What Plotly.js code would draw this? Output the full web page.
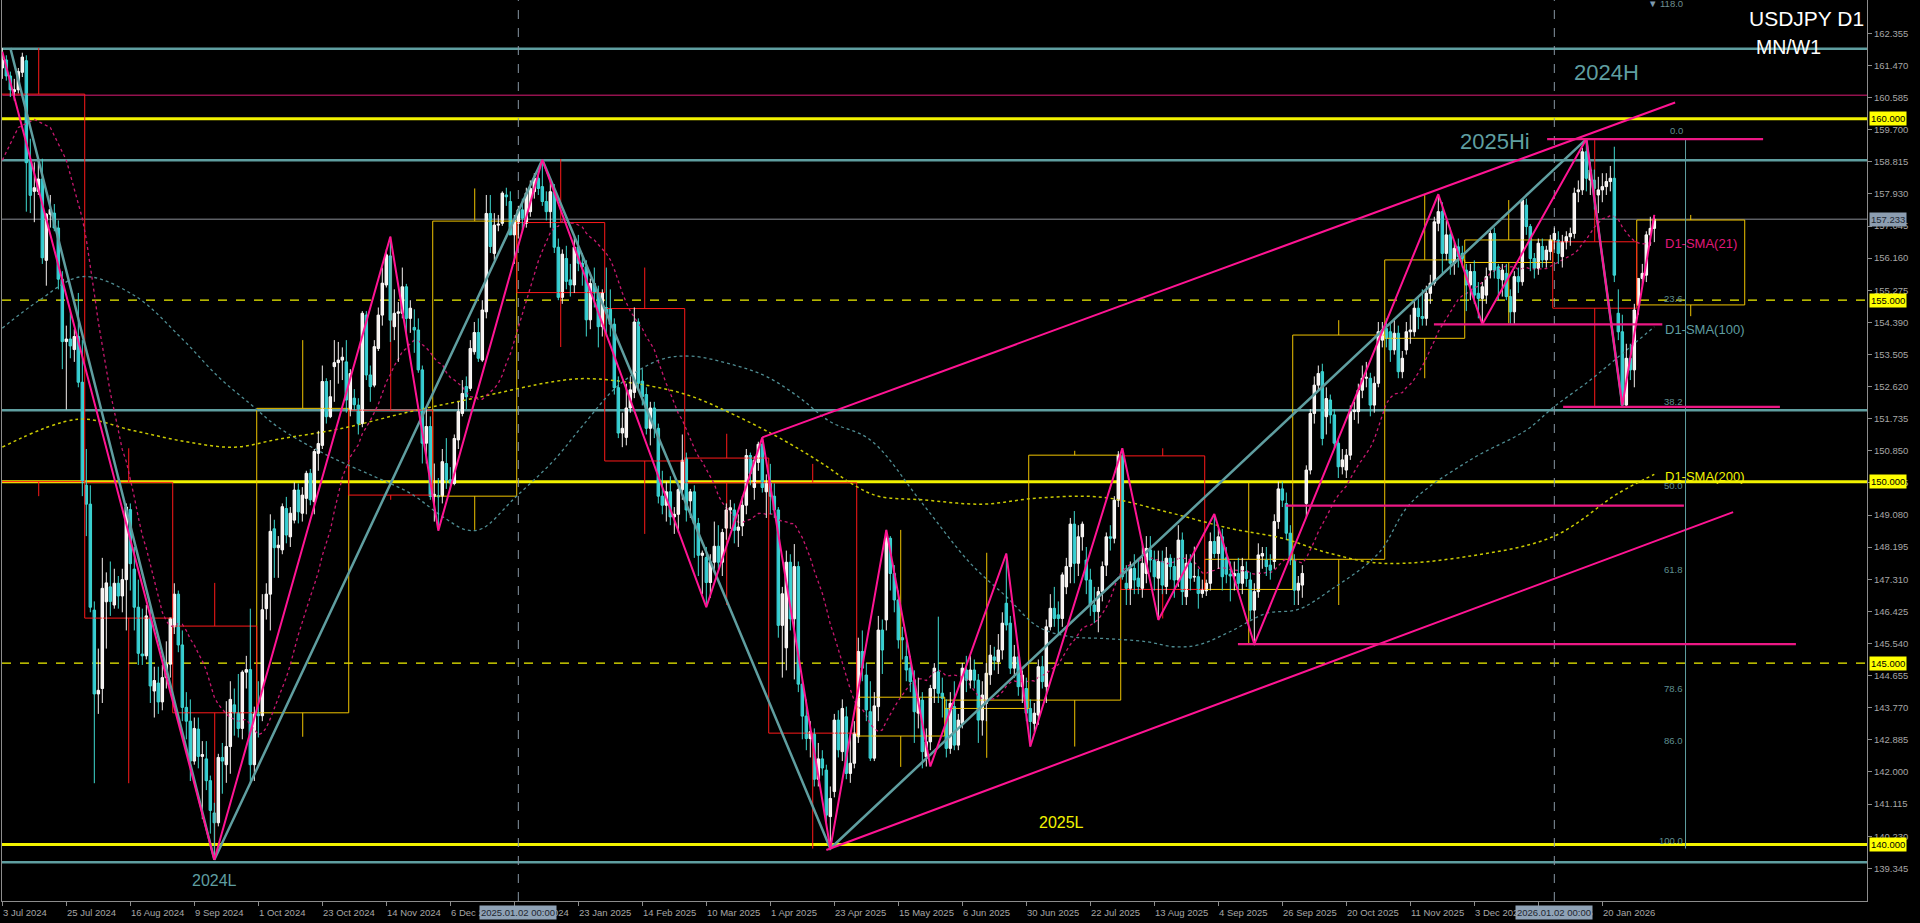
<!DOCTYPE html>
<html><head><meta charset="utf-8">
<script src="https://cdn.plot.ly/plotly-3.0.1.min.js"></script>
<style>html,body{margin:0;padding:0;background:#000;overflow:hidden}#chart{width:1920px;height:923px}</style>
</head><body><div id="chart"></div>
<script>
// ---------------- daily candles USDJPY D1 (bar index 0 = 3 Jul 2024) ----------------
const openP = [
161.40,161.62,161.18,160.75,160.80,161.28,161.60,158.86,158.00,158.00,
158.34,156.10,157.37,157.40,156.99,155.58,153.86,153.93,153.64,154.00,
152.74,149.90,149.38,146.46,144.15,144.30,146.69,147.10,146.60,147.20,
146.85,147.30,149.23,147.59,146.54,145.25,145.20,146.24,144.23,144.45,
143.93,144.60,144.97,146.00,146.90,145.50,143.78,143.40,142.30,143.18,
142.43,142.36,141.76,140.87,140.60,142.40,142.20,142.70,143.85,143.63,
143.20,144.75,144.82,142.20,143.60,143.55,146.50,146.90,148.70,148.18,
148.12,149.26,148.48,148.94,149.77,149.13,149.54,150.23,149.45,150.78,
151.00,152.76,151.79,153.17,153.28,153.35,153.30,151.97,152.30,152.11,
151.60,154.59,152.94,152.66,153.67,154.59,155.42,156.22,154.27,154.64,
154.64,155.37,154.50,154.25,154.18,153.08,151.06,151.52,149.59,149.62,
149.60,150.50,150.05,149.95,151.15,151.88,152.62,152.57,153.58,154.11,
153.35,154.68,157.39,156.29,157.07,157.12,157.90,157.72,156.80,157.12,
157.49,157.12,157.44,157.99,158.36,158.13,157.72,157.44,157.99,156.46,
155.08,156.15,155.56,155.42,156.46,156.02,155.92,154.46,155.46,155.20,
154.27,154.80,154.77,154.34,152.59,151.34,151.22,152.03,152.46,154.40,
152.77,152.40,151.47,152.03,151.47,149.60,149.35,149.72,149.03,149.10,
149.78,150.65,149.47,149.72,148.85,147.97,147.91,147.22,147.78,148.22,
147.78,148.72,149.22,149.22,148.66,148.78,149.35,150.72,149.84,150.53,
151.03,149.72,149.97,149.60,149.22,146.04,145.42,147.78,146.22,147.66,
144.42,143.54,142.92,143.04,141.80,142.36,142.05,140.77,141.46,143.43,
142.56,143.52,141.96,142.24,142.97,145.32,144.67,143.66,142.38,143.80,
145.91,146.19,148.44,147.47,146.74,145.70,145.18,144.86,144.53,143.62,
143.98,142.42,142.83,144.30,144.76,144.17,143.75,142.65,143.80,142.74,
143.34,144.81,144.53,144.81,144.53,143.43,143.89,144.68,145.17,145.04,
145.36,146.65,146.10,144.86,145.17,144.35,144.30,143.75,143.34,143.57,
144.90,144.35,146.00,146.51,146.33,146.23,147.10,147.66,148.83,147.75,
148.48,147.84,147.29,146.60,146.42,146.97,147.70,148.48,148.44,149.49,
150.71,147.20,147.06,147.61,147.34,147.06,147.47,148.12,147.84,147.34,
147.80,147.11,147.89,147.66,147.29,148.39,146.83,147.75,147.37,147.38,
146.92,146.99,147.20,148.35,148.02,148.48,147.90,147.45,147.40,147.47,
147.20,147.52,147.29,146.46,146.97,147.95,147.84,147.70,147.80,148.90,
149.80,149.40,148.58,147.84,147.01,147.15,149.40,150.32,151.88,152.66,
153.03,151.79,152.25,151.84,151.06,150.41,150.32,150.73,151.93,151.93,
152.52,152.85,152.85,152.11,152.71,153.90,154.22,154.13,153.63,154.09,
153.03,153.63,154.13,154.13,154.78,154.55,154.50,155.19,155.47,157.12,
157.44,156.29,156.80,156.02,156.47,156.29,155.83,155.42,155.79,155.19,
155.05,155.14,155.83,156.84,155.92,155.56,155.74,155.10,154.68,155.65,
155.51,157.62,157.03,156.15,155.88,156.48,156.11,156.34,156.66,156.66,
156.20,156.61,156.75,156.84,157.99,158.04,159.09,158.31,158.31,157.90,
158.04,158.13,158.27,158.36,154.64,154.13,152.11,153.40,153.08,154.87,
155.60,155.69,156.80,156.98];
const highP = [
161.95,161.75,161.30,161.10,161.40,161.82,161.75,159.45,158.80,158.85,
158.90,157.40,157.90,157.65,157.20,155.80,154.30,154.70,154.20,155.20,
153.90,150.90,149.90,146.70,145.40,147.90,147.50,147.80,147.60,147.40,
147.60,149.40,149.40,148.20,147.30,146.50,146.60,146.55,144.90,144.90,
144.95,145.60,146.25,147.20,147.00,145.90,144.20,144.00,143.50,143.50,
142.85,142.85,141.90,141.15,142.50,142.80,143.95,144.50,144.30,144.70,
144.80,145.20,146.50,143.80,144.50,146.90,147.20,149.10,148.95,148.50,
149.40,149.58,149.30,149.98,149.95,149.85,150.30,150.35,150.90,151.40,
153.20,152.85,152.80,153.90,153.85,153.70,153.90,153.10,152.55,152.30,
154.70,154.70,153.20,153.90,154.80,155.90,156.40,156.75,155.30,154.95,
155.90,155.45,155.00,154.75,154.50,153.20,152.00,151.80,150.50,150.10,
150.90,151.20,150.40,151.30,152.20,152.80,152.90,153.90,154.40,154.50,
155.00,157.90,157.90,157.40,157.35,158.00,158.10,158.00,157.35,157.60,
157.80,158.10,158.30,158.50,158.55,158.87,158.00,158.30,158.20,156.70,
156.40,156.50,156.00,156.75,156.80,156.30,156.10,155.60,155.90,155.40,
155.30,155.90,155.30,154.50,152.90,151.90,152.70,152.90,154.80,154.50,
153.10,152.60,152.20,152.20,151.60,150.30,150.00,150.15,149.30,149.90,
151.30,150.80,149.80,149.90,149.00,148.10,148.20,148.00,148.90,148.80,
148.70,149.40,149.50,149.40,149.10,149.60,150.90,150.80,150.70,151.10,
151.22,150.20,150.49,149.95,149.30,147.10,148.10,148.00,148.28,147.80,
144.60,144.00,143.40,143.20,142.80,142.60,142.20,141.60,143.60,143.70,
144.00,143.80,143.00,143.40,145.70,145.90,145.00,144.50,144.20,146.30,
146.20,148.67,148.50,147.70,147.00,146.00,145.60,145.20,144.80,144.60,
144.20,143.20,144.40,145.00,146.28,144.60,144.00,144.20,144.50,143.60,
145.00,145.20,145.20,145.10,144.70,144.50,145.00,145.50,145.45,145.80,
146.40,148.02,146.30,145.50,145.30,144.80,144.60,144.00,143.90,145.10,
145.20,146.20,146.90,147.10,146.70,147.50,147.90,149.00,149.19,148.80,
148.90,148.20,147.60,147.10,147.10,147.80,148.60,148.80,149.60,150.84,
150.92,147.70,147.80,148.00,147.90,148.30,148.50,148.50,148.10,148.10,
148.10,148.20,148.00,147.90,148.80,148.60,148.00,148.00,148.21,147.60,
147.30,147.30,148.60,149.11,148.70,148.70,148.20,147.80,147.80,147.90,
147.90,147.80,147.50,147.20,148.30,148.20,148.20,148.00,149.10,150.00,
150.00,149.70,148.80,148.00,147.40,147.70,150.45,152.00,152.90,153.20,
153.25,152.60,152.40,152.00,151.20,150.90,150.90,152.10,152.20,152.70,
153.20,153.30,153.00,152.90,154.40,154.40,154.50,154.40,154.50,154.30,
153.60,154.40,154.60,155.00,155.05,155.30,155.40,155.70,157.30,157.90,
157.70,157.20,157.00,156.60,156.70,156.50,156.00,156.00,156.10,155.50,
155.50,155.90,156.95,157.00,156.00,156.00,156.00,155.30,155.80,155.90,
157.78,157.80,157.10,156.30,156.70,156.70,156.50,156.80,157.00,156.90,
156.80,156.90,157.00,158.10,158.30,159.20,159.44,158.80,158.60,158.40,
158.50,158.50,158.70,159.23,155.30,154.60,153.80,153.80,154.90,155.60,
156.00,156.90,157.30,157.35];
const lowP = [
161.10,161.05,160.60,160.50,160.70,161.15,157.44,157.40,157.15,157.90,
156.00,155.40,157.00,156.90,155.30,153.10,151.99,153.40,153.30,152.60,
149.60,148.50,146.40,141.69,143.60,143.90,145.40,146.30,146.50,146.50,
146.40,145.90,147.00,145.90,144.95,144.95,145.10,143.90,143.50,143.60,
143.70,144.30,144.60,145.80,145.30,143.40,142.90,141.75,142.20,142.10,
140.70,141.50,140.30,139.58,140.50,141.40,141.70,141.95,143.00,142.95,
142.90,144.30,141.65,141.75,142.95,143.40,146.20,145.90,147.35,147.35,
148.00,148.30,148.20,148.85,148.85,148.90,149.10,149.35,149.10,150.30,
150.90,151.60,151.75,152.20,152.70,152.80,151.90,151.80,151.97,151.30,
151.50,152.80,152.20,152.60,153.60,154.30,155.35,153.85,153.90,153.30,
154.50,154.10,154.10,153.55,153.00,150.50,150.50,149.50,148.90,148.65,
149.40,149.80,149.80,149.90,150.90,151.80,152.00,152.50,153.50,153.30,
153.30,154.50,156.30,156.10,156.90,157.05,157.60,156.80,156.00,156.70,
156.90,157.00,157.30,157.80,157.90,157.60,157.20,157.00,156.30,155.00,
154.90,155.30,155.10,155.20,155.80,155.40,154.00,154.20,154.80,153.70,
154.00,154.00,154.00,152.40,151.20,150.95,151.00,151.90,152.30,152.50,
152.10,151.30,151.00,151.20,149.40,149.10,148.90,148.80,148.56,148.60,
149.50,148.90,149.00,147.90,147.40,146.90,146.54,146.80,147.50,147.60,
147.40,148.40,148.70,148.30,148.20,148.50,149.10,149.90,149.50,150.30,
149.70,149.00,149.10,149.00,145.70,144.60,144.80,145.90,144.55,144.20,
142.90,142.60,142.40,141.60,141.60,141.90,140.60,139.89,141.30,142.40,
142.30,141.80,141.70,142.10,142.80,144.50,143.40,142.30,142.30,143.40,
144.70,145.90,147.00,146.40,145.40,145.10,144.50,144.20,142.80,143.20,
142.10,142.15,142.60,143.90,143.90,143.50,142.40,142.50,142.60,142.60,
143.20,144.20,144.30,144.30,142.80,143.00,143.40,144.40,144.80,144.70,
145.10,145.90,144.70,144.60,144.10,143.90,143.40,142.70,143.10,143.30,
144.30,143.90,145.90,146.00,145.80,146.00,146.90,147.20,147.20,147.40,
148.10,146.90,146.30,146.10,145.85,146.70,147.40,148.10,148.30,149.30,
147.30,146.60,146.60,146.90,146.90,146.80,147.20,147.50,147.00,146.20,
146.90,146.90,147.30,146.80,147.10,146.60,146.60,147.00,147.24,146.50,
146.80,146.85,147.00,147.90,147.60,147.00,147.20,146.70,147.00,147.00,
146.90,147.10,146.20,145.49,146.80,147.60,147.40,147.30,147.60,148.70,
149.30,148.40,147.70,146.60,146.60,146.80,149.00,150.20,151.60,152.50,
151.00,151.30,151.60,150.90,150.10,150.20,150.10,150.60,151.70,151.60,
152.30,152.60,151.80,151.90,152.60,153.70,153.70,153.30,153.50,152.85,
152.85,153.50,153.80,154.00,154.20,154.30,154.30,154.90,155.40,156.90,
155.70,156.10,155.70,155.70,155.90,155.90,154.70,155.00,154.90,154.50,
154.34,154.90,155.60,155.60,155.00,155.10,155.00,154.35,154.35,155.20,
155.40,156.80,155.80,155.60,155.70,155.90,155.90,156.10,156.40,156.00,
155.90,156.40,156.50,156.70,157.70,157.90,158.00,157.90,157.50,157.40,
157.70,157.90,158.00,155.50,153.90,152.08,152.08,152.80,152.60,154.60,
155.40,155.50,156.50,156.60];
const closeP = [
161.62,161.18,160.80,160.80,161.30,161.70,158.79,157.89,158.10,158.34,
156.17,157.37,157.50,156.99,155.58,153.86,153.93,153.74,154.00,152.74,
149.98,149.38,146.54,144.15,144.25,147.06,147.21,146.70,147.20,146.85,
147.30,149.30,147.74,146.54,145.27,145.20,146.30,144.37,144.52,143.93,
144.60,144.97,146.24,146.90,145.50,143.78,143.40,142.30,143.20,142.43,
142.48,141.76,140.94,140.60,142.40,142.30,142.70,144.00,143.63,143.20,
144.75,144.82,142.20,143.60,143.55,146.47,146.90,148.63,148.18,148.25,
149.31,148.53,149.13,149.77,149.17,149.63,150.23,149.50,150.83,151.05,
152.76,151.79,152.34,153.28,153.35,153.43,152.25,152.98,152.12,151.60,
154.64,152.94,152.62,153.72,154.59,155.47,156.25,154.45,154.64,154.68,
155.37,154.50,154.78,154.18,153.08,151.06,151.52,149.59,149.65,149.58,
150.55,150.05,149.97,151.19,151.93,152.43,152.34,153.67,154.11,153.40,
154.73,157.39,156.48,157.07,157.10,157.95,157.85,156.80,157.21,157.49,
157.26,157.95,158.08,158.36,158.08,157.72,157.44,157.99,156.46,155.08,
156.27,155.52,155.42,156.46,156.02,155.92,154.46,155.46,155.20,154.27,
155.20,154.65,154.34,152.59,151.34,151.47,152.03,152.53,154.40,152.71,
152.34,151.47,152.03,151.47,149.60,149.35,149.72,149.03,149.10,149.78,
150.59,149.22,149.72,148.85,147.97,148.03,147.22,147.78,148.22,147.78,
148.60,149.22,149.28,148.66,148.75,149.35,150.72,150.22,150.59,151.03,
149.84,149.97,149.60,149.22,146.04,146.91,147.78,146.22,147.66,144.42,
143.54,142.92,143.11,141.80,142.36,142.11,140.81,141.27,143.43,142.61,
143.75,141.96,142.24,143.07,145.32,144.86,143.71,142.38,143.82,145.91,
145.36,148.44,147.47,146.74,145.64,145.64,144.81,144.49,143.66,144.03,
142.56,142.83,144.30,144.86,144.17,144.03,142.65,143.89,142.74,143.43,
144.86,144.53,144.81,144.53,143.43,144.12,144.72,145.22,145.08,145.36,
146.10,146.05,144.86,145.17,144.35,144.67,143.62,143.39,143.62,144.90,
144.49,146.00,146.51,146.23,146.23,147.43,147.66,148.83,147.75,148.48,
148.83,147.29,146.60,146.42,146.97,147.66,148.48,148.44,149.49,150.73,
147.38,147.06,147.61,147.29,147.11,147.75,148.16,147.84,147.38,147.80,
147.15,147.89,147.66,147.29,148.39,146.97,147.75,147.34,147.39,146.92,
147.03,147.20,148.35,148.02,148.48,147.38,147.45,147.40,147.47,147.20,
147.66,147.33,146.46,146.97,147.98,148.02,147.66,147.56,148.90,149.80,
149.49,148.58,147.84,147.01,147.20,147.47,150.32,151.88,152.66,152.98,
151.19,152.29,151.84,151.06,150.41,150.60,150.73,151.93,151.97,152.52,
152.85,152.88,152.11,152.71,154.13,154.18,153.95,153.63,154.09,153.03,
153.40,154.13,154.18,154.78,154.55,154.50,155.19,155.47,157.16,157.44,
156.29,156.80,156.02,156.43,156.20,156.15,155.42,155.79,155.14,155.05,
155.37,155.65,156.84,155.83,155.60,155.83,155.10,154.68,155.65,155.51,
157.76,157.03,156.15,155.88,156.57,156.11,156.38,156.66,156.84,156.29,
156.61,156.75,156.84,157.95,158.04,159.09,158.36,158.59,158.08,158.04,
158.13,158.27,158.36,155.69,154.13,152.11,153.40,153.08,154.73,155.60,
155.74,156.80,156.98,157.23];

// ---------------- axes ----------------
const xTickIdx = [0,16,32,48,64,80,96,112,128,144,160,176,192,208,224,240,256,272,288,304,320,336,352,368,384,400];
const xTickText = ["3 Jul 2024","25 Jul 2024","16 Aug 2024","9 Sep 2024","1 Oct 2024","23 Oct 2024","14 Nov 2024","6 Dec 2024","30 Dec 2024","23 Jan 2025","14 Feb 2025","10 Mar 2025","1 Apr 2025","23 Apr 2025","15 May 2025","6 Jun 2025","30 Jun 2025","22 Jul 2025","13 Aug 2025","4 Sep 2025","26 Sep 2025","20 Oct 2025","11 Nov 2025","3 Dec 2025","26 Dec 2025","20 Jan 2026"];
const yTickText = ["162.355","161.470","160.585","159.700","158.815","157.930","157.045","156.160","155.275","154.390","153.505","152.620","151.735","150.850","149.965","149.080","148.195","147.310","146.425","145.540","144.655","143.770","142.885","142.000","141.115","140.230","139.345"];
const yTickVals = yTickText.map(Number);

// ---------------- monthly (MN) candles drawn as boxes ----------------
const monthStartIdx = [-2,21,43,64,87,108,129,151,171,192,214,236,257,280,301,323,346,366,388,409,436];
const mOpen  = [160.68,149.98,146.02,143.63,151.97,149.60,157.14,154.77,150.65,149.97,142.99,143.75,143.98,150.71,147.03,147.86,153.95,156.04,156.61,154.87];
const mHigh  = [161.95,150.92,147.21,153.90,156.75,158.08,158.89,155.90,151.32,150.49,148.67,148.04,150.85,150.92,149.97,154.45,157.90,157.76,159.41,157.35];
const mLow   = [149.60,141.69,139.60,142.97,149.50,148.67,153.71,148.56,146.60,139.89,142.14,142.39,142.70,146.23,145.54,146.60,152.85,154.36,152.08,154.56];
const mClose = [150.00,146.24,143.63,152.02,149.63,157.18,155.21,150.57,149.97,143.07,144.06,143.98,150.73,147.03,147.86,154.04,156.11,156.66,154.78,157.21];

// ---------------- moving averages ----------------
const sma21HeadIdx = [0,4,8,12,16];
const sma21HeadVal = [158.86,159.76,159.98,159.76,158.86];
const sma100Idx = [0,9,20,33,45,54,62,69,81,93,102,110,116,120,128,138,145,154,164,172,183,191,199,207,217,230,242,251,259,267,275,286,293,299,307,316,324,332,344,352,367,381,388,397,405,413];
const sma100Val = [154.23,154.98,155.65,155.13,153.93,152.89,152.14,151.50,150.74,150.14,149.68,149.04,148.67,148.71,149.54,150.60,151.53,152.65,153.34,153.46,153.21,152.90,152.34,151.65,151.15,149.40,147.75,146.83,146.00,145.73,145.68,145.59,145.45,145.50,145.87,146.37,146.48,147.01,148.02,149.40,150.60,151.42,152.07,152.80,153.53,154.27];
const sma200Idx = [0,19,33,46,58,69,85,102,118,138,146,158,171,183,196,205,213,219,230,245,259,275,291,307,320,332,345,367,388,404,413];
const sma200Val = [150.95,151.72,151.40,151.10,150.95,151.17,151.47,151.93,152.30,152.76,152.84,152.71,152.40,151.84,151.10,150.50,149.90,149.60,149.50,149.38,149.55,149.57,149.17,148.71,148.44,148.02,147.75,147.95,148.50,149.68,150.20];

// ---------------- zigzags / channel ----------------
const pinkZigIdx = [0,53,97,109,135,176,190,207,221,232,251,257,280,289,303,313,359,370,396,405,413];
const pinkZigVal = [161.85,139.58,156.75,148.65,158.87,146.54,151.22,139.89,148.67,142.15,148.02,142.70,150.92,146.19,149.11,145.52,157.92,154.34,159.44,152.10,157.35];
const tealZigIdx = [2,53,135,207,396,405];
const tealZigVal = [161.95,139.58,158.87,139.89,159.44,152.10];
const chanUpIdx = [190,418.2], chanUpVal = [151.22,160.45];
const chanLoIdx = [206,432.7], chanLoVal = [139.85,149.16];

// horizontal levels
const tealLevels = [161.93,158.86,151.97,139.51];
const yellowLevels = [160.0,150.0,140.0];
const yellowDashLevels = [155.0,145.0];
const crimsonLevel = 160.65;
const lastPrice = 157.233;
const pinkSegStart = [386.2,357.9,390.2,320.9,308.9];
const pinkSegEnd   = [440.2,415.0,444.4,420.4,448.4];
const pinkSegVal   = [159.44,154.335,152.06,149.34,145.52];

// fibonacci
const fibHigh = 159.44, fibLow = 139.89, fibIdx = 420.8;
const fibRatios = [0,23.6,38.2,50,61.8,78.6,86,100];
const fibText = ["0.0","23.6","38.2","50.0","61.8","78.6","86.0","100.0"];

// markers for the two year-start separators
const sepIdx = [129,388];
const sepText = ["2025.01.02 00:00","2026.01.02 00:00"];

// ====================================================================
const N = closeP.length;
const ids = Array.from({length:N},(_,i)=>i);
const bullI = ids.filter(i=>closeP[i]>=openP[i]);
const bearI = ids.filter(i=>closeP[i]<openP[i]);
const FONT = 'Liberation Sans, Arial, sans-serif';
const traces = [];

// monthly boxes
function addBoxes(filterBull, color){
  const bx=[],by=[],wx=[],wy=[];
  for(let m=0;m<mOpen.length;m++){
    const bull = mClose[m]>=mOpen[m];
    if(bull!==filterBull) continue;
    const x0 = monthStartIdx[m]-0.4, x1 = monthStartIdx[m+1]-0.4;
    const top=Math.max(mOpen[m],mClose[m]), bot=Math.min(mOpen[m],mClose[m]);
    bx.push(x0,x1,x1,x0,x0,null); by.push(top,top,bot,bot,top,null);
    const xc=(x0+x1)/2;
    wx.push(xc,xc,null,xc,xc,null); wy.push(top,mHigh[m],null,bot,mLow[m],null);
  }
  traces.push({type:'scatter',mode:'lines',x:bx,y:by,line:{color:color,width:1},hoverinfo:'skip'});
  traces.push({type:'scatter',mode:'lines',x:wx,y:wy,line:{color:color,width:1},hoverinfo:'skip'});
}
addBoxes(true,'#f0c400');
addBoxes(false,'#ff1a1a');

// moving averages
const sma21X = sma21HeadIdx.slice(), sma21Y = sma21HeadVal.slice();
for(let i=20;i<N;i++){let s=0;for(let k=i-20;k<=i;k++)s+=closeP[k];sma21X.push(i);sma21Y.push(s/21);}
traces.push({type:'scatter',mode:'lines',x:sma100Idx,y:sma100Val,line:{color:'#4f8d93',width:1.3,dash:'dot',shape:'spline'},hoverinfo:'skip'});
traces.push({type:'scatter',mode:'lines',x:sma200Idx,y:sma200Val,line:{color:'#c9c900',width:1.5,dash:'dot',shape:'spline'},hoverinfo:'skip'});
traces.push({type:'scatter',mode:'lines',x:sma21X,y:sma21Y,line:{color:'#c8186f',width:1.3,dash:'dot'},hoverinfo:'skip'});

// wicks
function wick(list,color){
  const x=[],y=[];
  list.forEach(i=>{x.push(i,i,null);y.push(lowP[i],highP[i],null);});
  traces.push({type:'scatter',mode:'lines',x:x,y:y,line:{color:color,width:1},hoverinfo:'skip'});
}
wick(bullI,'#f4f0ee');
wick(bearI,'#3fd9d0');
// bodies
traces.push({type:'bar',x:bullI,base:bullI.map(i=>openP[i]),y:bullI.map(i=>Math.max(closeP[i]-openP[i],0.02)),width:0.62,
  marker:{color:'#fdf4ef',line:{color:'#ffffff',width:1}},hoverinfo:'skip'});
traces.push({type:'bar',x:bearI,base:bearI.map(i=>closeP[i]),y:bearI.map(i=>Math.max(openP[i]-closeP[i],0.02)),width:0.62,
  marker:{color:'#1e9fdc',line:{color:'#3fd9d0',width:1}},hoverinfo:'skip'});

// zigzags and channel
traces.push({type:'scatter',mode:'lines',x:tealZigIdx,y:tealZigVal,line:{color:'#5f9ea0',width:2.5},hoverinfo:'skip'});
traces.push({type:'scatter',mode:'lines',x:pinkZigIdx,y:pinkZigVal,line:{color:'#ff1493',width:2},hoverinfo:'skip'});
traces.push({type:'scatter',mode:'lines',x:chanUpIdx,y:chanUpVal,line:{color:'#ff1493',width:2},hoverinfo:'skip'});
traces.push({type:'scatter',mode:'lines',x:chanLoIdx,y:chanLoVal,line:{color:'#ff1493',width:2},hoverinfo:'skip'});
// fib vertical
traces.push({type:'scatter',mode:'lines',x:[fibIdx,fibIdx],y:[fibHigh,fibLow],line:{color:'#5f9ea0',width:1},hoverinfo:'skip'});

// shapes
const shapes = [];
tealLevels.forEach(v=>shapes.push({type:'line',xref:'paper',x0:0,x1:1,yref:'y',y0:v,y1:v,line:{color:'#5f9ea0',width:2.5},layer:'below'}));
yellowLevels.forEach(v=>shapes.push({type:'line',xref:'paper',x0:0,x1:1,yref:'y',y0:v,y1:v,line:{color:'#f2f200',width:3},layer:'below'}));
yellowDashLevels.forEach(v=>shapes.push({type:'line',xref:'paper',x0:0,x1:1,yref:'y',y0:v,y1:v,line:{color:'#f2f200',width:1.2,dash:'dash'},layer:'below'}));
shapes.push({type:'line',xref:'x',x0:0,x1:470,yref:'y',y0:crimsonLevel,y1:crimsonLevel,line:{color:'#dc1b74',width:1},layer:'below'});
shapes.push({type:'line',xref:'paper',x0:0,x1:1,yref:'y',y0:lastPrice,y1:lastPrice,line:{color:'#8a8f96',width:1},layer:'below'});
pinkSegVal.forEach((v,k)=>shapes.push({type:'line',xref:'x',x0:pinkSegStart[k],x1:pinkSegEnd[k],yref:'y',y0:v,y1:v,line:{color:'#ec1885',width:2.2}}));
sepIdx.forEach(v=>shapes.push({type:'line',xref:'x',x0:v,x1:v,yref:'paper',y0:0,y1:1,line:{color:'#8796a4',width:1,dash:'dash'},layer:'below'}));

// annotations
const ann = [];
xTickIdx.forEach((v,k)=>ann.push({xref:'x',x:v,yref:'paper',y:0,xanchor:'left',yanchor:'top',yshift:-4,xshift:-1,showarrow:false,
  text:xTickText[k],font:{family:FONT,size:9.5,color:'#a6a6a6'}}));
sepIdx.forEach((v,k)=>ann.push({xref:'x',x:v,yref:'paper',y:0,xanchor:'center',yanchor:'top',yshift:-4,showarrow:false,
  text:sepText[k],font:{family:FONT,size:9.5,color:'#1e2630'},bgcolor:'#8fa2b6',borderpad:1}));
// right price labels
yellowLevels.concat(yellowDashLevels).forEach(v=>ann.push({xref:'paper',x:1,y:v,yref:'y',xanchor:'left',xshift:2,showarrow:false,
  text:v.toFixed(3),font:{family:FONT,size:9.5,color:'#000'},bgcolor:'#ffff00',borderpad:1}));
ann.push({xref:'paper',x:1,y:lastPrice,yref:'y',xanchor:'left',xshift:2,showarrow:false,text:lastPrice.toFixed(3),
  font:{family:FONT,size:9.5,color:'#1c2733'},bgcolor:'#8c9db0',borderpad:1});
// fib labels
fibRatios.forEach((r,k)=>ann.push({xref:'x',x:fibIdx,y:fibHigh-(fibHigh-fibLow)*r/100,yref:'y',xanchor:'right',yanchor:'bottom',xshift:-1,yshift:1,
  showarrow:false,text:fibText[k],font:{family:FONT,size:9.5,color:'#5f8f90'}}));
ann.push({xref:'x',x:fibIdx,y:1,yref:'paper',xanchor:'right',yanchor:'middle',yshift:-3,xshift:-1,showarrow:false,
  text:'<span style="color:#7f9aae">▼</span> 118.0',font:{family:FONT,size:9.5,color:'#6f8f92'}});
// titles
ann.push({xref:'paper',x:1,y:1,yref:'paper',xanchor:'right',yanchor:'top',xshift:-1,yshift:-5,showarrow:false,
  text:'USDJPY D1',font:{family:FONT,size:21,color:'#ffffff'}});
ann.push({xref:'paper',x:1,y:1,yref:'paper',xanchor:'right',yanchor:'top',xshift:-44,yshift:-34,showarrow:false,
  text:'MN/W1',font:{family:FONT,size:19.5,color:'#ffffff'}});
// object labels
ann.push({xref:'x',x:409.7,y:161.275,yref:'y',xanchor:'right',yanchor:'middle',showarrow:false,text:'2024H',font:{family:FONT,size:22,color:'#5f9ea0'}});
ann.push({xref:'x',x:382.4,y:159.37,yref:'y',xanchor:'right',yanchor:'middle',showarrow:false,text:'2025Hi',font:{family:FONT,size:22,color:'#5f9ea0'}});
ann.push({xref:'x',x:53,y:139.02,yref:'y',xanchor:'center',yanchor:'middle',showarrow:false,text:'2024L',font:{family:FONT,size:16,color:'#5f9ea0'}});
ann.push({xref:'x',x:264.9,y:140.62,yref:'y',xanchor:'center',yanchor:'middle',showarrow:false,text:'2025L',font:{family:FONT,size:16,color:'#f2f200'}});
ann.push({xref:'x',x:415.1,y:156.57,yref:'y',xanchor:'left',yanchor:'middle',showarrow:false,text:'D1-SMA(21)',font:{family:FONT,size:13,color:'#e0187a'}});
ann.push({xref:'x',x:415.1,y:154.2,yref:'y',xanchor:'left',yanchor:'middle',showarrow:false,text:'D1-SMA(100)',font:{family:FONT,size:13,color:'#5f9ea0'}});
ann.push({xref:'x',x:415.1,y:150.15,yref:'y',xanchor:'left',yanchor:'middle',showarrow:false,text:'D1-SMA(200)',font:{family:FONT,size:13,color:'#f2f200'}});

const layout = {
  width:1920,height:923,paper_bgcolor:'#000',plot_bgcolor:'#000',
  margin:{l:2,r:53,t:0,b:22},showlegend:false,barmode:'overlay',
  font:{family:FONT,color:'#a6a6a6'},
  xaxis:{range:[-0.08,466.17],tickvals:xTickIdx,showticklabels:false,ticks:'outside',ticklen:4,tickcolor:'#8c8c8c',
    showgrid:false,zeroline:false,showline:true,linecolor:'#8c8c8c',linewidth:1,mirror:false,fixedrange:true},
  yaxis:{range:[138.444,163.273],side:'right',tickvals:yTickVals,ticktext:yTickText,ticks:'outside',ticklen:4,tickcolor:'#8c8c8c',
    tickfont:{family:FONT,size:9.5,color:'#a6a6a6'},showgrid:false,zeroline:false,showline:true,linecolor:'#8c8c8c',linewidth:1,mirror:true,fixedrange:true},
  shapes:shapes,annotations:ann,hovermode:false
};
Plotly.newPlot('chart',traces,layout,{displayModeBar:false,staticPlot:true});
</script></body></html>
